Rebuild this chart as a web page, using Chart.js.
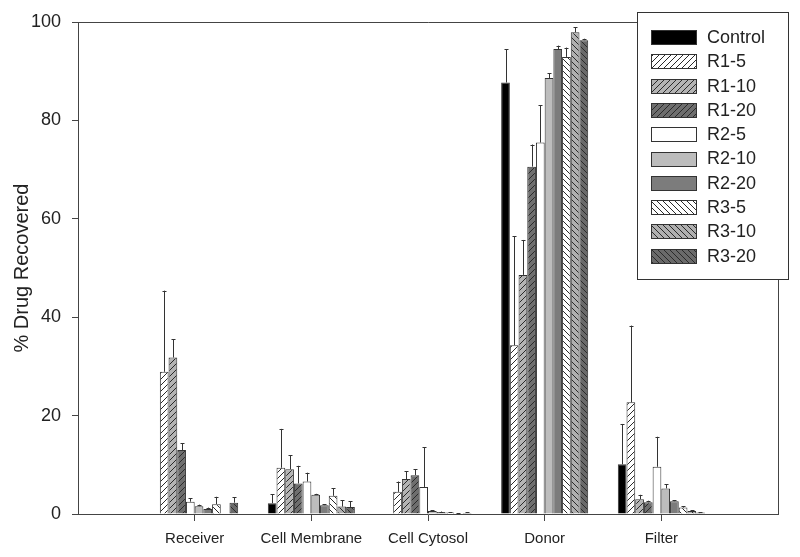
<!DOCTYPE html>
<html lang="en">
<head>
<meta charset="UTF-8">
<title>% Drug Recovered</title>
<script src="https://cdn.jsdelivr.net/npm/chart.js"></script>
<style>
    html, body {
        margin: 0;
        padding: 0;
        background: #fff;
    }
    .wrap {
        position: relative;
        width: 800px;
        height: 557px;
    }
</style>
</head>
<body>
<div class="wrap">
    <canvas id="recoveryChart"></canvas>
</div>
<script>
// categories along the x axis
const categories = ['Receiver', 'Cell Membrane', 'Cell Cytosol', 'Donor', 'Filter'];
const seriesNames = ['Control', 'R1-5', 'R1-10', 'R1-20', 'R2-5', 'R2-10', 'R2-20', 'R3-5', 'R3-10', 'R3-20'];

// mean % recovered, one value per category
const control = [0, 2.2, 0, 87.7, 10.1];
const r1_5 = [28.9, 9.4, 4.5, 34.3, 22.7];
const r1_10 = [31.8, 9.1, 7.1, 48.6, 3.0];
const r1_20 = [13.0, 6.2, 7.9, 70.6, 2.4];
const r2_5 = [2.5, 6.6, 5.5, 75.5, 9.6];
const r2_10 = [1.6, 3.9, 0.6, 88.6, 5.2];
const r2_20 = [1.0, 1.8, 0.4, 94.5, 2.6];
const r3_5 = [2.0, 3.7, 0.3, 92.9, 1.3];
const r3_10 = [0, 1.5, 0.1, 97.9, 0.6];
const r3_20 = [2.3, 1.4, 0.2, 96.3, 0.3];

// upper error bars (SD)
const controlErr = [0, 1.8, 0, 6.8, 8.2];
const r1_5Err = [16.5, 7.9, 2.1, 22.2, 15.6];
const r1_10Err = [3.7, 2.8, 1.6, 7.1, 0.9];
const r1_20Err = [1.4, 3.6, 1.2, 4.5, 0.3];
const r2_5Err = [0.7, 1.8, 8.1, 7.6, 6.1];
const r2_10Err = [0.3, 0.2, 0.2, 1.0, 0.8];
const r2_20Err = [0.3, 0.2, 0.1, 0.7, 0.2];
const r3_5Err = [1.5, 1.5, 0.1, 1.9, 0.3];
const r3_10Err = [0, 1.3, 0.1, 1.0, 0.2];
const r3_20Err = [1.1, 1.2, 0.2, 0.3, 0.1];

const yTicks = [0, 20, 40, 60, 80, 100];

const allValues = [control, r1_5, r1_10, r1_20, r2_5, r2_10, r2_20, r3_5, r3_10, r3_20];
const allErrors = [controlErr, r1_5Err, r1_10Err, r1_20Err, r2_5Err, r2_10Err, r2_20Err, r3_5Err, r3_10Err, r3_20Err];

// hatch fill: dir 1 = "/", dir -1 = "\"
function hatch(bg, dir) {
    const c = document.createElement('canvas');
    c.width = 6;
    c.height = 6;
    const g = c.getContext('2d');
    g.fillStyle = bg;
    g.fillRect(0, 0, 6, 6);
    g.strokeStyle = '#2a2a2a';
    g.lineWidth = 1;
    g.beginPath();
    if (dir > 0) {
        g.moveTo(0, 6); g.lineTo(6, 0);
        g.moveTo(-1, 1); g.lineTo(1, -1);
        g.moveTo(5, 7); g.lineTo(7, 5);
    } else {
        g.moveTo(0, 0); g.lineTo(6, 6);
        g.moveTo(5, -1); g.lineTo(7, 1);
        g.moveTo(-1, 5); g.lineTo(1, 7);
    }
    g.stroke();
    return g.createPattern(c, 'repeat');
}

const fills = [
    '#000000',
    hatch('#ffffff', 1),
    hatch('#b4b4b4', 1),
    hatch('#6e6e6e', 1),
    '#ffffff',
    '#bdbdbd',
    '#7c7c7c',
    hatch('#ffffff', -1),
    hatch('#b0b0b0', -1),
    hatch('#6a6a6a', -1)
];

// pad the category axis with an empty slot on each side
const labels = [''].concat(categories, ['']);

const datasets = seriesNames.map((name, i) => ({
    label: name,
    data: [null].concat(allValues[i], [null]),
    errors: [null].concat(allErrors[i], [null]),
    backgroundColor: fills[i],
    borderColor: '#333',
    borderWidth: 1,
    categoryPercentage: 0.746,
    barPercentage: 1.0
}));

const errorBars = {
    id: 'errorBars',
    afterDatasetsDraw(chart) {
        const ctx = chart.ctx;
        const y = chart.scales.y;
        ctx.save();
        ctx.strokeStyle = '#333';
        ctx.lineWidth = 1;
        chart.data.datasets.forEach((ds, di) => {
            const meta = chart.getDatasetMeta(di);
            meta.data.forEach((bar, idx) => {
                const v = ds.data[idx];
                const e = ds.errors[idx];
                if (v == null || !e) return;
                const x = Math.round(bar.x) + 0.5;
                const y0 = y.getPixelForValue(v);
                const y1 = y.getPixelForValue(v + e);
                ctx.beginPath();
                ctx.moveTo(x, y0);
                ctx.lineTo(x, y1);
                ctx.moveTo(x - 2, Math.round(y1) + 0.5);
                ctx.lineTo(x + 2, Math.round(y1) + 0.5);
                ctx.stroke();
            });
        });
        ctx.restore();
    }
};

const frameAndLegend = {
    id: 'frameAndLegend',
    afterDraw(chart) {
        const ctx = chart.ctx;
        const a = chart.chartArea;
        ctx.save();
        // top and right frame lines
        ctx.strokeStyle = '#444';
        ctx.lineWidth = 1;
        ctx.beginPath();
        ctx.moveTo(a.left, Math.round(a.top) + 0.5);
        ctx.lineTo(Math.round(a.right) + 0.5, Math.round(a.top) + 0.5);
        ctx.lineTo(Math.round(a.right) + 0.5, a.bottom);
        ctx.stroke();

        // legend box
        const bx = 637, by = 12, bw = 151, bh = 267;
        ctx.fillStyle = '#fff';
        ctx.fillRect(bx, by, bw, bh);
        ctx.strokeStyle = '#333';
        ctx.strokeRect(bx + 0.5, by + 0.5, bw, bh);
        ctx.font = '18px "Liberation Sans", Arial, sans-serif';
        ctx.textBaseline = 'middle';
        chart.data.datasets.forEach((ds, i) => {
            const cy = 37 + i * 24.3;
            ctx.fillStyle = ds.backgroundColor;
            ctx.fillRect(651, Math.round(cy - 7), 45, 14);
            ctx.strokeStyle = '#333';
            ctx.strokeRect(651.5, Math.round(cy - 7) + 0.5, 45, 14);
            ctx.fillStyle = '#222';
            ctx.fillText(ds.label, 707, cy + 1);
        });
        ctx.restore();
    }
};

Chart.defaults.font.family = '"Liberation Sans", Arial, sans-serif';
Chart.defaults.color = '#222';

new Chart(document.getElementById('recoveryChart'), {
    type: 'bar',
    data: { labels: labels, datasets: datasets },
    options: {
        responsive: true,
        maintainAspectRatio: false,
        animation: false,
        devicePixelRatio: 1,
        layout: { padding: { top: 22, right: 22, left: 0, bottom: 0 } },
        plugins: {
            legend: { display: false },
            tooltip: { enabled: false }
        },
        scales: {
            x: {
                type: 'category',
                offset: false,
                afterFit(scale) { scale.height = 43; },
                grid: {
                    offset: false,
                    drawOnChartArea: false,
                    drawTicks: true,
                    tickLength: 7,
                    color: (c) => (c.index === 0 || c.index === labels.length - 1) ? 'rgba(0,0,0,0)' : '#444'
                },
                border: { display: true, color: '#444', width: 1 },
                ticks: {
                    autoSkip: false,
                    maxRotation: 0,
                    padding: 9,
                    font: { size: 15 },
                    color: '#222'
                }
            },
            y: {
                min: 0,
                max: 100,
                afterFit(scale) { scale.width = 78; },
                afterBuildTicks(scale) { scale.ticks = yTicks.map(v => ({ value: v })); },
                grid: {
                    drawOnChartArea: false,
                    drawTicks: true,
                    tickLength: 6,
                    color: '#444'
                },
                border: { display: true, color: '#444', width: 1 },
                ticks: {
                    padding: 11,
                    font: { size: 18 },
                    color: '#222'
                },
                title: {
                    display: true,
                    text: '% Drug Recovered',
                    font: { size: 20 },
                    color: '#222',
                    padding: { top: 10, bottom: 0 }
                }
            }
        }
    },
    plugins: [errorBars, frameAndLegend]
});
</script>
</body>
</html>
